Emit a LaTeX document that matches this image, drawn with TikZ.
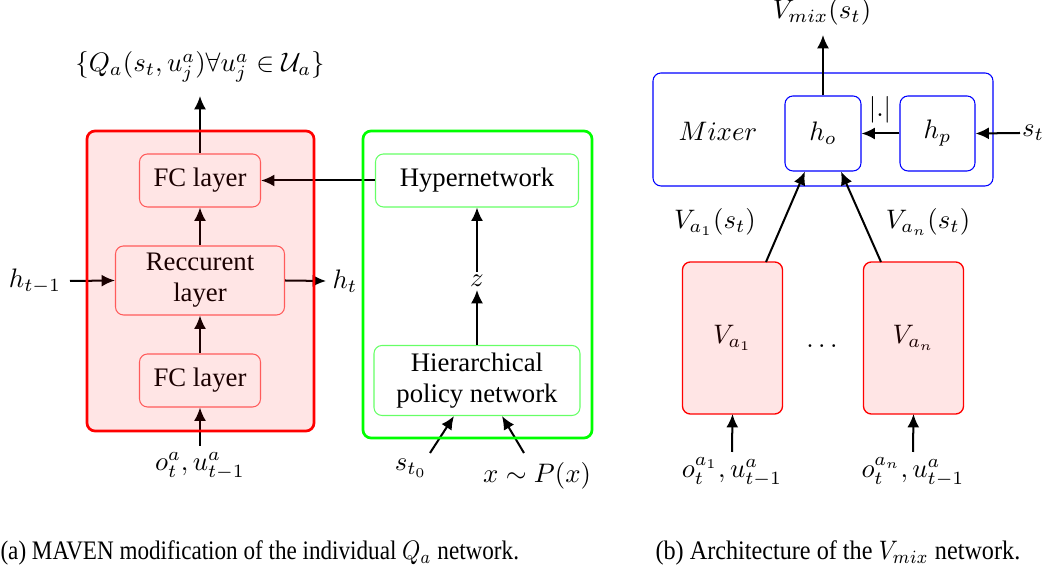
\documentclass[tikz,border=0pt]{standalone}
\usepackage[no-math]{fontspec}
\setmainfont{Liberation Serif}
\usetikzlibrary{arrows.meta,calc}
\def\pxu{0.374pt}
\tikzset{
  arr/.style={line width=0.75pt,-{Latex[length=5pt,width=4.5pt]}},
  redin/.style={draw=red!60,line width=0.4pt,rounded corners=8*\pxu,align=center,inner sep=0pt},
  greenin/.style={draw=green!60,line width=0.4pt,rounded corners=8*\pxu,align=center,inner sep=0pt},
  bluein/.style={draw=blue,line width=0.4pt,rounded corners=8*\pxu,inner sep=0pt},
  vbox/.style={inner sep=0pt,minimum width=99*\pxu,minimum height=151*\pxu},
  vover/.style={draw=red,line width=0.5pt,fill=red,fill opacity=0.1,rounded corners=8*\pxu},
  lbl/.style={inner sep=1pt},
}
\begin{document}
\begin{tikzpicture}[x=0.374pt,y=-0.374pt,font=\fontsize{10}{11.5}\selectfont]
\useasboundingbox (0,0) rectangle (1050,575);
% ---------- (a) left panel ----------
\node[redin,minimum width=121*\pxu,minimum height=53*\pxu] (fc1) at (200,180.5) {FC layer};
\node[redin,minimum width=169*\pxu,minimum height=69*\pxu] (rec) at (200,280.5) {Reccurent\\layer};
\node[redin,minimum width=121*\pxu,minimum height=53*\pxu] (fc0) at (200,380.5) {FC layer};
\node[lbl] (q) at (200,67) {$\{Q_a(s_t,u_j^a)\forall u_j^a\in\mathcal{U}_a\}$};
\coordinate (qa) at (200,96);
\node[lbl] (htm) at (35,281) {$h_{t-1}$};
\coordinate (htma) at (70,281);
\node[lbl] (ht) at (345,281) {$h_t$};
\coordinate (hta) at (326,281);
\node[lbl] (obs) at (200,466) {$o_t^a,u_{t-1}^a$};
\coordinate (obsa) at (200,446);
\draw[arr] (fc1.north) -- (qa);
\draw[arr] (rec.north) -- (fc1.south);
\draw[arr] (fc0.north) -- (rec.south);
\draw[arr] (obsa) -- (fc0.south);
\draw[arr] (htma) -- (rec.west);
\draw[arr] (rec.east) -- (hta);
% green part
\node[greenin,minimum width=203*\pxu,minimum height=53*\pxu] (hyper) at (477,180.5) {Hypernetwork};
\node[lbl] (z) at (477,281) {$z$};
\node[greenin,minimum width=206*\pxu,minimum height=70*\pxu] (hier) at (477,380.5) {Hierarchical\\policy network};
\draw[arr] (hyper.west) -- (fc1.east);
\draw[arr] (z) -- (hyper.south);
\draw[arr] (hier.north) -- (z);
\node[lbl] (st0) at (411,468) {$s_{t_0}$};
\node[lbl] (xp) at (537,476) {$x\sim P(x)$};
\coordinate (st0a) at (430,453);
\coordinate (xpa) at (524,453);
\draw[arr] (st0a) -- ([xshift=-23*\pxu]hier.south);
\draw[arr] (xpa) -- ([xshift=25*\pxu]hier.south);
\draw[green,line width=1pt,rounded corners=8*\pxu] (363,131) rectangle (592,438);
% red container overlay
\draw[red,line width=1pt,fill=red,fill opacity=0.1,rounded corners=8*\pxu] (87,131) rectangle (314,431);
% ---------- (b) right panel ----------
\node[bluein,minimum width=340*\pxu,minimum height=113*\pxu] (mixer) at (823,129.5) {};
\node[lbl] (mixlbl) at (718,131) {$Mixer$};
\node[bluein,minimum width=76*\pxu,minimum height=75*\pxu] (ho) at (823,133.5) {$h_o$};
\node[bluein,minimum width=75*\pxu,minimum height=75*\pxu] (hp) at (937.5,133.5) {$h_p$};
\draw[arr] (hp.west) -- (ho.east);
\node[lbl] (abs) at (880,110) {$|.|$};
\node[lbl] (st) at (1033,133) {$s_t$};
\coordinate (sta) at (1020,133);
\draw[arr] (sta) -- (hp.east);
\node[lbl] (vmix) at (822,12) {$V_{mix}(s_t)$};
\coordinate (vmixa) at (823,35);
\draw[arr] (ho.north) -- (vmixa);
\node[vbox] (va1) at (732.5,338) {$V_{a_1}$};
\node[vbox] (van) at (913.5,338) {$V_{a_n}$};
\path[vover] (va1.south west) rectangle (va1.north east);
\path[vover] (van.south west) rectangle (van.north east);
\node[lbl] (dots) at (822,346) {$\dots$};
\draw[arr] ([xshift=33.5*\pxu]va1.north) -- ([xshift=-18*\pxu]ho.south);
\draw[arr] ([xshift=-32.5*\pxu]van.north) -- ([xshift=18*\pxu]ho.south);
\node[lbl] (lva1) at (715,222) {$V_{a_1}(s_t)$};
\node[lbl] (lvan) at (928,222) {$V_{a_n}(s_t)$};
\node[lbl] (in1) at (732,472) {$o_t^{a_1},u_{t-1}^a$};
\node[lbl] (inn) at (913,472) {$o_t^{a_n},u_{t-1}^a$};
\coordinate (in1a) at (732,452);
\coordinate (inna) at (913,452);
\draw[arr] (in1a) -- (va1.south);
\draw[arr] (inna) -- (van.south);
% ---------- captions ----------
\node[anchor=west,inner sep=0pt] (capa) at (0,553) {\scalebox{0.865}[1]{(a) MAVEN modification of the individual $Q_a$ network.}};
\node[anchor=west,inner sep=0pt] (capb) at (655,553) {\scalebox{0.905}[1]{(b) Architecture of the $V_{mix}$ network.}};
\end{tikzpicture}
\end{document}
